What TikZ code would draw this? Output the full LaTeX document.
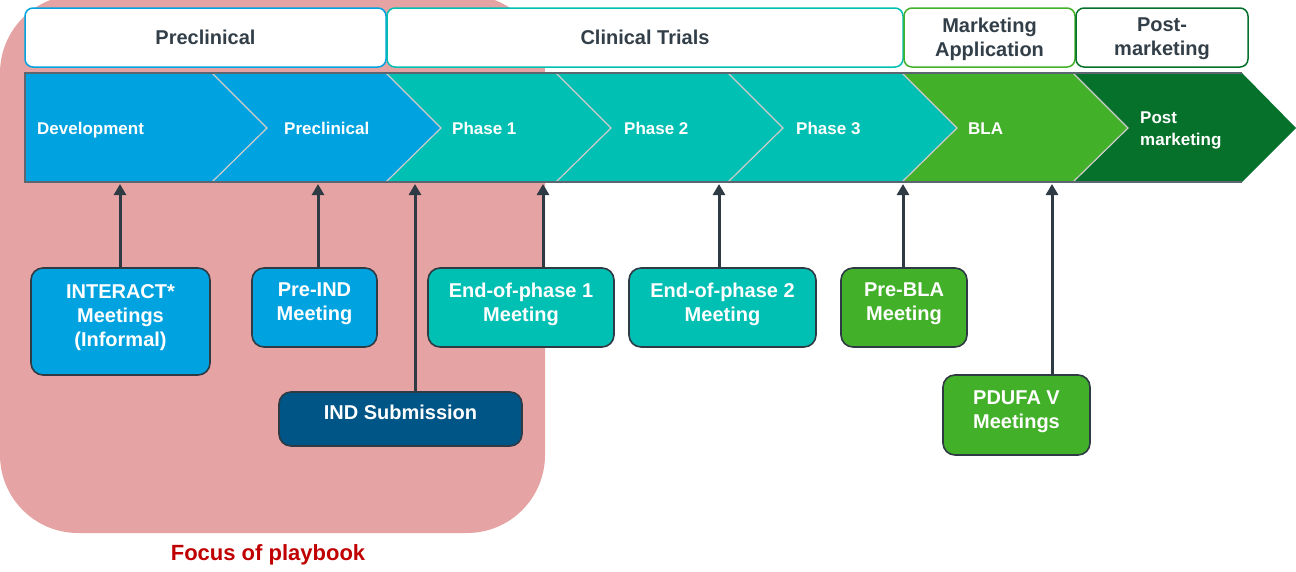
\documentclass[tikz,border=0pt]{standalone}
\usepackage{fontspec}
\setmainfont{Liberation Sans}
\usetikzlibrary{arrows.meta}

\definecolor{cblue}{HTML}{00A3E0}
\definecolor{cteal}{HTML}{00BFB3}
\definecolor{cgreen}{HTML}{43B02A}
\definecolor{cdkgreen}{HTML}{05712B}
\definecolor{cnavy}{HTML}{005587}
\definecolor{cpink}{HTML}{E6A3A3}
\definecolor{cink}{HTML}{2E3A44}
\definecolor{chead}{HTML}{333F48}
\definecolor{cred}{HTML}{C00000}
\definecolor{cedge}{HTML}{5C6670}
\definecolor{csep}{HTML}{D0CCCC}

\tikzset{
  header/.style={draw=#1, line width=1.5pt, fill=white, rounded corners=8pt,
    inner sep=0pt, align=center, text=chead,
    font=\fontsize{20}{24}\selectfont\bfseries},
  chevtext/.style={anchor=west, inner sep=0pt, text=white, align=left,
    text height=12pt, text depth=0pt,
    font=\fontsize{17}{22}\selectfont\bfseries},
  meet/.style={fill=#1, draw=cink, line width=1.6pt, rounded corners=12pt,
    inner sep=0pt, align=center, text=white, text depth=11pt,
    font=\fontsize{20}{24}\selectfont\bfseries},
  link/.style={draw=cink, line width=3pt, shorten >=2pt,
    -{Triangle[length=11pt,width=12pt]}},
  sepline/.style={draw=csep, line width=1.2pt},
}

\begin{document}
\begin{tikzpicture}[x=1pt, y=-1pt]
\useasboundingbox (0,0) rectangle (1296,571);

% highlighted region
\fill[cpink, rounded corners=78pt] (0,-5) rectangle (545,533);
\node[text=cred, font=\fontsize{22}{26}\selectfont\bfseries, inner sep=0pt]
  (focus) at (268,555) {Focus of playbook};

% stage headers
\node[header=cblue, minimum width=361pt, minimum height=59pt]
  (hpre) at (205.5,37.5) {Preclinical};
\node[header=cteal, minimum width=516pt, minimum height=59pt]
  (hclin) at (645,37.5) {Clinical Trials};
\node[header=cgreen, minimum width=171pt, minimum height=59pt, text depth=1pt]
  (hmkt) at (989.5,37.5) {Marketing\\Application};
\node[header=cdkgreen, minimum width=172pt, minimum height=59pt, text depth=1pt]
  (hpost) at (1162,37.5) {Post-\\marketing};

% chevron band
\fill[cblue] (25,73) -- (212,73) -- (267,128) -- (212,182) -- (25,182) -- cycle;
\fill[cblue] (212,73) -- (386,73) -- (441,128) -- (386,182) -- (212,182) -- (267,128) -- cycle;
\fill[cteal] (386,73) -- (556,73) -- (611,128) -- (556,182) -- (386,182) -- (441,128) -- cycle;
\fill[cteal] (556,73) -- (728,73) -- (783,128) -- (728,182) -- (556,182) -- (611,128) -- cycle;
\fill[cteal] (728,73) -- (902,73) -- (957,128) -- (902,182) -- (728,182) -- (783,128) -- cycle;
\fill[cgreen] (902,73) -- (1073,73) -- (1128,128) -- (1073,182) -- (902,182) -- (957,128) -- cycle;
\fill[cdkgreen] (1073,73) -- (1242,73) -- (1296,128) -- (1242,182) -- (1073,182) -- (1128,128) -- cycle;

% separators between stages
\foreach \b in {212,386,556,728,902,1073}
  \draw[sepline] (\b,73) -- (\b+55,128) -- (\b,182);
% outer edge of the band
\draw[cedge, line width=1.3pt] (1242,73) -- (25,73) -- (25,182) -- (1242,182);

% stage labels
\node[chevtext] (cdev)  at (37,128)   {Development};
\node[chevtext] (cpre)  at (284,128)  {Preclinical};
\node[chevtext] (cph1)  at (452,128)  {Phase 1};
\node[chevtext] (cph2)  at (624,128)  {Phase 2};
\node[chevtext] (cph3)  at (796,128)  {Phase 3};
\node[chevtext] (cbla)  at (968,128)  {BLA};
\node[chevtext, text height=34pt] (cpost) at (1140,128) {Post\\marketing};

% points on the band where each milestone lands
\coordinate (fInteract) at (120,182);
\coordinate (fPreind)   at (318,182);
\coordinate (fInd)      at (415,182);
\coordinate (fEop1)     at (543,182);
\coordinate (fEop2)     at (719,182);
\coordinate (fPrebla)   at (903,182);
\coordinate (fPdufa)    at (1052,182);

% milestone boxes
\node[meet=cblue, minimum width=179pt, minimum height=107pt]
  (interact) at (120.5,321.5) {INTERACT*\\Meetings\\(Informal)};
\node[meet=cblue, minimum width=125pt, minimum height=79pt]
  (preind) at (314.5,307.5) {Pre-IND\\Meeting};
\node[meet=cnavy, minimum width=243pt, minimum height=54pt,
      text height=14pt, text depth=14pt]
  (indsub) at (400.5,419) {IND Submission};
\node[meet=cteal, minimum width=186pt, minimum height=79pt]
  (eop1) at (521,307.5) {End-of-phase 1\\Meeting};
\node[meet=cteal, minimum width=187pt, minimum height=79pt]
  (eop2) at (722.5,307.5) {End-of-phase 2\\Meeting};
\node[meet=cgreen, minimum width=126pt, minimum height=79pt]
  (prebla) at (904,307.5) {Pre-BLA\\Meeting};
\node[meet=cgreen, minimum width=147pt, minimum height=80pt]
  (pdufa) at (1016.5,415) {PDUFA V\\Meetings};

% connectors
\draw[link] (fInteract |- interact.north) -- (fInteract);
\draw[link] (fPreind |- preind.north) -- (fPreind);
\draw[link] (fInd |- indsub.north) -- (fInd);
\draw[link] (fEop1 |- eop1.north) -- (fEop1);
\draw[link] (fEop2 |- eop2.north) -- (fEop2);
\draw[link] (fPrebla |- prebla.north) -- (fPrebla);
\draw[link] (fPdufa |- pdufa.north) -- (fPdufa);
\end{tikzpicture}
\end{document}
